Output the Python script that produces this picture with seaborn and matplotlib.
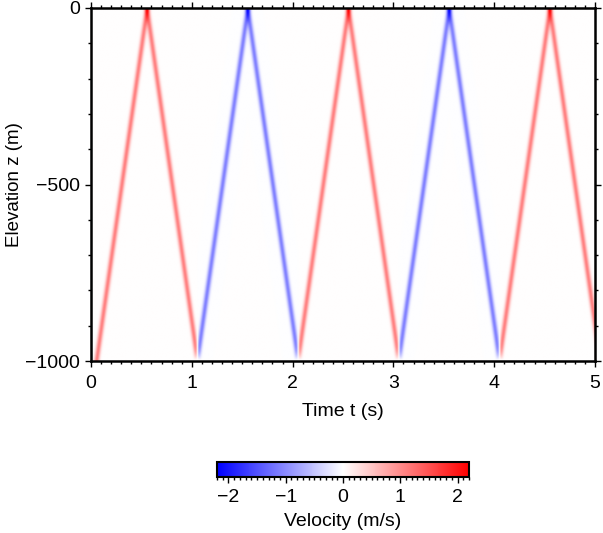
import numpy as np
import matplotlib
matplotlib.use("Agg")
import matplotlib.pyplot as plt
from matplotlib.ticker import MultipleLocator
import seaborn as sns

# turning points of the pulse path
turn_times = [0.055, 0.555, 1.055, 1.555, 2.055, 2.555, 3.055, 3.555, 4.055, 4.555, 5.055]
turn_elev = [-1000, 0, -1000, 0, -1000, 0, -1000, 0, -1000, 0, -1000]
# sign of the velocity on each leg (red = +, blue = -)
leg_sign = [1, 1, -1, -1, 1, 1, -1, -1, 1, 1]
pulse_amp = 1.1      # m/s, away from the surface
pulse_width = 50.0   # m

t_range = (0.0, 5.0)
z_range = (-1000.0, 0.0)
cbar_ticks = [-2, -1, 0, 1, 2]
vmax = 2.2

# grid for the image
t = np.arange(t_range[0], t_range[1] + 0.0025, 0.005)
z = np.arange(z_range[0], z_range[1] + 2.5, 5.0)
T, Z = np.meshgrid(t, z)
V = np.zeros_like(T)
for k, s in enumerate(leg_sign):
    t0, t1 = turn_times[k], turn_times[k + 1]
    z0, z1 = turn_elev[k], turn_elev[k + 1]
    zc = z0 + (z1 - z0) * (T - t0) / (t1 - t0)
    V += s * pulse_amp * np.exp(-((Z - zc) / pulse_width) ** 2)

sns.set_theme(style="ticks")
plt.rcParams['font.family'] = ['Liberation Sans', 'DejaVu Sans']
plt.rcParams['axes.unicode_minus'] = True
for key in ['text.color', 'axes.labelcolor', 'xtick.color', 'ytick.color',
            'xtick.labelcolor', 'ytick.labelcolor']:
    plt.rcParams[key] = 'black'

cmap = sns.blend_palette(["#0000ff", "#ffffff", "#ff0000"], n_colors=257, as_cmap=True)

fig = plt.figure(figsize=(6.03, 5.33), dpi=100)
ax = fig.add_axes([91 / 603, 1 - 361 / 533, 504 / 603, 353 / 533])

im = ax.imshow(V, origin="lower", aspect="auto", cmap=cmap, vmin=-vmax, vmax=vmax,
               extent=[t_range[0], t_range[1], z_range[0], z_range[1]],
               interpolation="bilinear")

ax.set_xlim(*t_range)
ax.set_ylim(*z_range)
ax.xaxis.set_major_locator(MultipleLocator(1))
ax.xaxis.set_minor_locator(MultipleLocator(0.1))
ax.yaxis.set_major_locator(MultipleLocator(500))
ax.yaxis.set_minor_locator(MultipleLocator(100))
ax.tick_params(which="both", direction="out", top=True, right=True,
               labeltop=False, labelright=False, color="black", width=1.0)
ax.tick_params(which="major", length=4.5, labelsize=14, pad=3.5)
ax.tick_params(axis="x", which="major", pad=5.5)
ax.tick_params(which="minor", length=2.2)
for sp in ax.spines.values():
    sp.set_linewidth(1.8)
    sp.set_color("black")

ax.set_xlabel("Time t (s)", fontsize=14, labelpad=8)
ax.set_ylabel("Elevation z (m)", fontsize=13.5, labelpad=1.5)

# colorbar
cax = fig.add_axes([217 / 603, 1 - 477 / 533, 252 / 603, 15 / 533])
cb = fig.colorbar(im, cax=cax, orientation="horizontal")
cb.set_ticks(cbar_ticks)
cax.xaxis.set_minor_locator(MultipleLocator(0.1))
cax.tick_params(which="both", direction="out", bottom=True, top=False, color="black", width=1.0)
cax.tick_params(which="major", length=4.5, labelsize=14, pad=4.5)
cax.tick_params(which="minor", length=2)
cb.outline.set_linewidth(1.5)
cb.outline.set_edgecolor("black")
cb.set_label("Velocity (m/s)", fontsize=14, labelpad=5)

fig.savefig("out.png", dpi=100)
